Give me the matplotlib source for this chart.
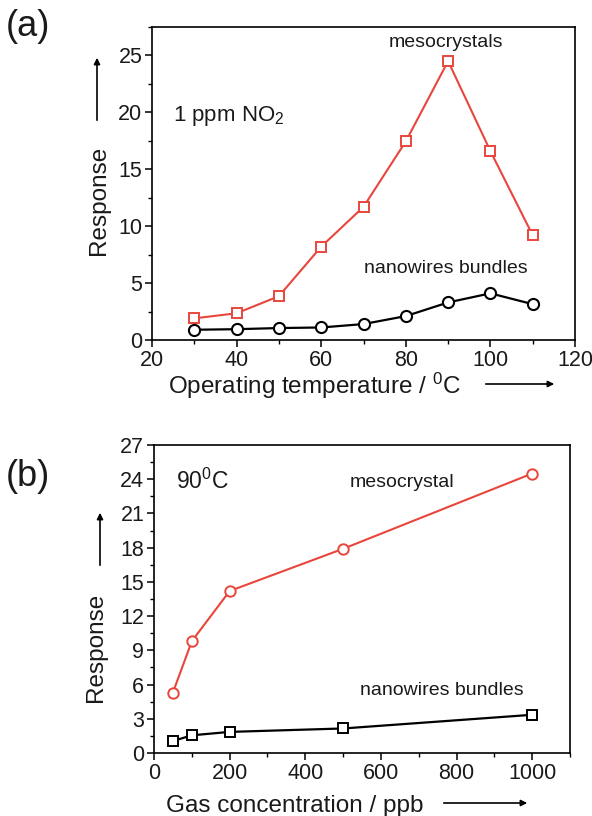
import matplotlib
matplotlib.use("Agg")
import matplotlib.pyplot as plt
from matplotlib.ticker import MultipleLocator
from matplotlib.patches import FancyArrowPatch

plt.rcParams['font.family'] = ['Liberation Sans', 'DejaVu Sans']
plt.rcParams['mathtext.fontset'] = 'custom'
plt.rcParams['mathtext.rm'] = 'Liberation Sans'
plt.rcParams['mathtext.it'] = 'Liberation Sans:italic'

# ---- data panel (a)
temp = [30, 40, 50, 60, 70, 80, 90, 100, 110]
meso_a = [1.9, 2.35, 3.85, 8.2, 11.7, 17.45, 24.5, 16.6, 9.2]
nano_a = [0.9, 0.95, 1.05, 1.1, 1.4, 2.1, 3.3, 4.1, 3.15]
xticks_a = [20, 40, 60, 80, 100, 120]
yticks_a = [0, 5, 10, 15, 20, 25]

# ---- data panel (b)
conc = [50, 100, 200, 500, 1000]
meso_b = [5.3, 9.8, 14.2, 17.9, 24.5]
nano_b = [1.05, 1.55, 1.85, 2.15, 3.35]
xticks_b = [0, 200, 400, 600, 800, 1000]
yticks_b = [0, 3, 6, 9, 12, 15, 18, 21, 24, 27]

RED = '#e8463c'
TXT = '#1a1a1a'
W, H = 592, 816
fig = plt.figure(figsize=(W/100, H/100), dpi=100)

def fx(px):
    return px / W

def fy(py):
    return 1 - py / H

axa = fig.add_axes([fx(152), fy(340), fx(575) - fx(152), fy(27) - fy(340)])
axb = fig.add_axes([fx(154), fy(753), fx(570) - fx(154), fy(445) - fy(753)])

for ax in (axa, axb):
    ax.tick_params(direction='out', length=5, width=1.1, labelsize=15.5, pad=2,
                   labelcolor=TXT)
    ax.tick_params(which='minor', direction='out', length=3, width=1.0)
    for s in ax.spines.values():
        s.set_linewidth(1.2)

# panel (a)
axa.plot(temp, meso_a, '-s', color=RED, lw=1.5, ms=7, mfc='white', mec=RED, mew=1.4)
axa.plot(temp, nano_a, '-o', color='black', lw=1.6, ms=8, mfc='white', mec='black', mew=1.5)
axa.set_xlim(20, 120)
axa.set_ylim(0, 27.5)
axa.set_xticks(xticks_a)
axa.set_yticks(yticks_a)
axa.xaxis.set_minor_locator(MultipleLocator(10))
axa.yaxis.set_minor_locator(MultipleLocator(2.5))
axa.text(89.5, 26.1, 'mesocrystals', fontsize=14, ha='center', va='center', color=TXT)
axa.text(89.5, 6.3, 'nanowires bundles', fontsize=14, ha='center', va='center', color=TXT)
axa.text(25.0, 19.7, '1 ppm NO$_2$', fontsize=16, ha='left', va='center', color=TXT)

# panel (b)
axb.plot(conc, meso_b, '-o', color=RED, lw=1.5, ms=7.5, mfc='white', mec=RED, mew=1.4)
axb.plot(conc, nano_b, '-s', color='black', lw=1.6, ms=7, mfc='white', mec='black', mew=1.4)
axb.set_xlim(0, 1100)
axb.set_ylim(0, 27)
axb.set_xticks(xticks_b)
axb.set_yticks(yticks_b)
axb.xaxis.set_minor_locator(MultipleLocator(100))
axb.yaxis.set_minor_locator(MultipleLocator(1.5))
axb.text(655, 23.7, 'mesocrystal', fontsize=14, ha='center', va='center', color=TXT)
axb.text(760, 5.5, 'nanowires bundles', fontsize=14, ha='center', va='center', color=TXT)
axb.text(58, 23.8, '90$^0$C', fontsize=16.5, ha='left', va='center', color=TXT)

# panel letters
fig.text(fx(6), fy(26), '(a)', fontsize=26, ha='left', va='center', color=TXT)
fig.text(fx(6), fy(476), '(b)', fontsize=26, ha='left', va='center', color=TXT)

# axis labels
fig.text(fx(99), fy(200), 'Response', fontsize=17.5, rotation=90, ha='center', va='center', color=TXT)
fig.text(fx(96), fy(647), 'Response', fontsize=17.5, rotation=90, ha='center', va='center', color=TXT)
fig.text(fx(315), fy(386), 'Operating temperature / $^0$C', fontsize=17.5, ha='center', va='center', color=TXT)
fig.text(fx(295), fy(806), 'Gas concentration / ppb', fontsize=17.5, ha='center', va='center', color=TXT)

arrow = dict(arrowstyle='-|>', color='black', lw=1.2, mutation_scale=9)
fig.add_artist(FancyArrowPatch((fx(97), fy(123)), (fx(97), fy(55)),
               transform=fig.transFigure, **arrow))
fig.add_artist(FancyArrowPatch((fx(100), fy(568)), (fx(100), fy(510)),
               transform=fig.transFigure, **arrow))
fig.add_artist(FancyArrowPatch((fx(483), fy(384)), (fx(557), fy(384)),
               transform=fig.transFigure, **arrow))
fig.add_artist(FancyArrowPatch((fx(441), fy(803)), (fx(530), fy(803)),
               transform=fig.transFigure, **arrow))

fig.savefig('out.png', dpi=100)
